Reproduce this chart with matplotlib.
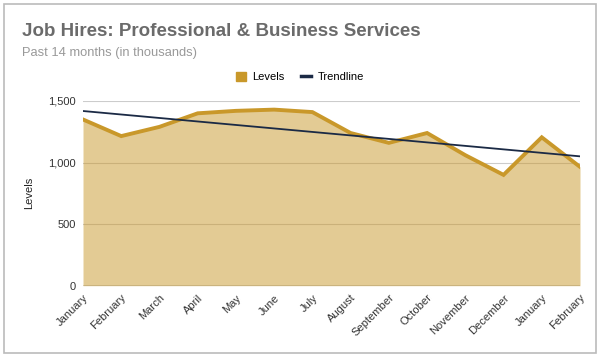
import numpy as np
import matplotlib.pyplot as plt
from matplotlib.lines import Line2D
from matplotlib.patches import Patch, Rectangle

plt.rcParams['font.family'] = ['Liberation Sans', 'DejaVu Sans']

months = ['January', 'February', 'March', 'April', 'May', 'June', 'July',
          'August', 'September', 'October', 'November', 'December',
          'January', 'February']
levels = [1350, 1215, 1290, 1400, 1420, 1430, 1410,
          1240, 1160, 1240, 1060, 900, 1205, 965]
y_ticks = [0, 500, 1000, 1500]
y_tick_labels = ['0', '500', '1,000', '1,500']

gold = '#c9982a'
navy = '#1b2a45'

x = np.arange(len(months))
#linear trendline through the levels
coef = np.polyfit(x, levels, 1)
trend = np.polyval(coef, x)

fig = plt.figure(figsize=(6, 3.57), dpi=100)
ax = fig.add_axes([83/600, 1-285.7/357, 497/600, 184.7/357])

ax.set_ylim(0, 1500)
ax.set_xlim(0, len(months)-1)
ax.set_yticks(y_ticks)
ax.set_yticklabels(y_tick_labels)
ax.grid(axis='y', color='#cccccc', lw=0.8, zorder=0)
ax.set_axisbelow(True)

ax.fill_between(x, levels, 0, color=gold, alpha=0.5, lw=0, zorder=1)
ax.plot(x, levels, color=gold, lw=2.8, solid_joinstyle='miter', zorder=2)
ax.plot(x, trend, color=navy, lw=1.3, zorder=3)
ax.axhline(0, color='#6b5a2e', lw=1.0, zorder=4)

for s in ax.spines.values():
    s.set_visible(False)
ax.tick_params(length=0, labelsize=8, colors='#333333', pad=5)
ax.set_xticks(x)
ax.set_xticklabels(months, rotation=45, ha='right', rotation_mode='anchor')
ax.set_ylabel('Levels', fontsize=8, color='#222222')
ax.yaxis.set_label_coords((34-83)/497, 0.5)

fig.text(22/600, 1-32/357, 'Job Hires: Professional & Business Services',
         fontsize=13.5, fontweight='bold', color='#6b6b6b', va='center')
fig.text(22/600, 1-53/357, 'Past 14 months (in thousands)',
         fontsize=9.3, color='#999999', va='center')

handles = [Patch(facecolor=gold, edgecolor=gold),
           Line2D([0], [0], color=navy, lw=2.5)]
fig.legend(handles, ['Levels', 'Trendline'], loc='center', ncol=2,
           bbox_to_anchor=(0.5, 1-77/357), frameon=False, fontsize=8,
           handlelength=0.9, handleheight=0.9, columnspacing=1.5,
           handletextpad=0.6)

fig.patches.append(Rectangle((4/600, 4/357), 592/600, 349/357,
                             transform=fig.transFigure, fill=False,
                             edgecolor='#bbbbbb', lw=1.2))

fig.savefig('out.png', dpi=100)
